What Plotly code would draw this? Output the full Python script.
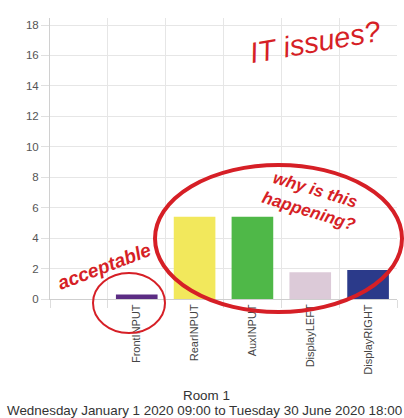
import plotly.graph_objects as go

categories = [" ", "FrontINPUT", "RearINPUT", "AuxINPUT", "DisplayLEFT", "DisplayRIGHT"]
values = [None, 0.3, 5.4, 5.4, 1.75, 1.9]
colors = ["rgba(0,0,0,0)", "#5b2c83", "#f2e85c", "#4fb848", "#dccad8", "#2b3a8a"]
title_line1 = "Room 1"
title_line2 = "Wednesday January 1 2020 09:00 to Tuesday 30 June 2020 18:00"

W, H = 404, 418
L, R, T, B = 50, 7, 18, 119
PW, PH = W - L - R, H - T - B


def px(x):
    return (x - L) / PW


def py(y):
    return (H - B - y) / PH


fig = go.Figure()
fig.add_trace(go.Bar(x=categories, y=values, marker=dict(color=colors, line=dict(width=0)),
                     width=0.72, hoverinfo="skip"))

red = "#d61f26"
shapes = [
    dict(type="circle", xref="paper", yref="paper", x0=px(155), x1=px(402), y0=py(165), y1=py(312),
         line=dict(color=red, width=4)),
    dict(type="circle", xref="paper", yref="paper", x0=px(93), x1=px(165), y0=py(273), y1=py(333),
         line=dict(color=red, width=2)),
]

annos = [
    dict(text="<i>IT issues?</i>", x=px(315), y=py(42), textangle=-10,
         font=dict(size=29, color=red, family="Liberation Sans")),
    dict(text="<i><b>why is this<br>happening?</b></i>", x=px(312), y=py(200), textangle=17,
         font=dict(size=17, color=red, family="Liberation Sans")),
    dict(text="<i><b>acceptable</b></i>", x=px(104), y=py(266), textangle=-21,
         font=dict(size=19, color=red, family="Liberation Sans")),
    dict(text=title_line1, x=0.5 * W + 4, y=395, font=dict(size=13.4, color="#333")),
    dict(text=title_line2, x=0.5 * W + 2, y=410, font=dict(size=13.4, color="#333")),
]
annotations = []
for a in annos[:3]:
    a.update(xref="paper", yref="paper", showarrow=False, xanchor="center", yanchor="middle")
    annotations.append(a)
for a in annos[3:]:
    annotations.append(dict(text=a["text"], xref="paper", yref="paper", x=px(a["x"]), y=py(a["y"]),
                            showarrow=False, xanchor="center", yanchor="middle", font=dict(family="Liberation Sans", **a["font"])))

fig.update_layout(
    width=W, height=H, autosize=False,
    margin=dict(l=L, r=R, t=T, b=B, pad=0),
    paper_bgcolor="white", plot_bgcolor="white",
    showlegend=False, bargap=0.28,
    font=dict(family="Liberation Sans", color="#666"),
    shapes=shapes, annotations=annotations,
    xaxis=dict(type="category", tickson="boundaries", showgrid=True, gridcolor="#e6e6e6", gridwidth=1,
               ticks="outside", ticklen=8, tickcolor="#ddd", tickangle=-90,
               tickfont=dict(size=11, color="#444"), showline=True, linecolor="#cfcfcf",
               range=[-0.5, 5.5], fixedrange=True),
    yaxis=dict(range=[0, 18.46], tickvals=[0, 2, 4, 6, 8, 10, 12, 14, 16, 18], showgrid=True,
               gridcolor="#e6e6e6", ticks="outside", ticklen=8, tickcolor="#e0e0e0",
               tickfont=dict(size=11.5, color="#555"), showline=True, linecolor="#d0d0d0",
               zeroline=False, fixedrange=True),
)

fig.write_html("out.html", config={"displayModeBar": False},
               post_script="document.body.style.margin='0';document.body.style.overflow='hidden';")
